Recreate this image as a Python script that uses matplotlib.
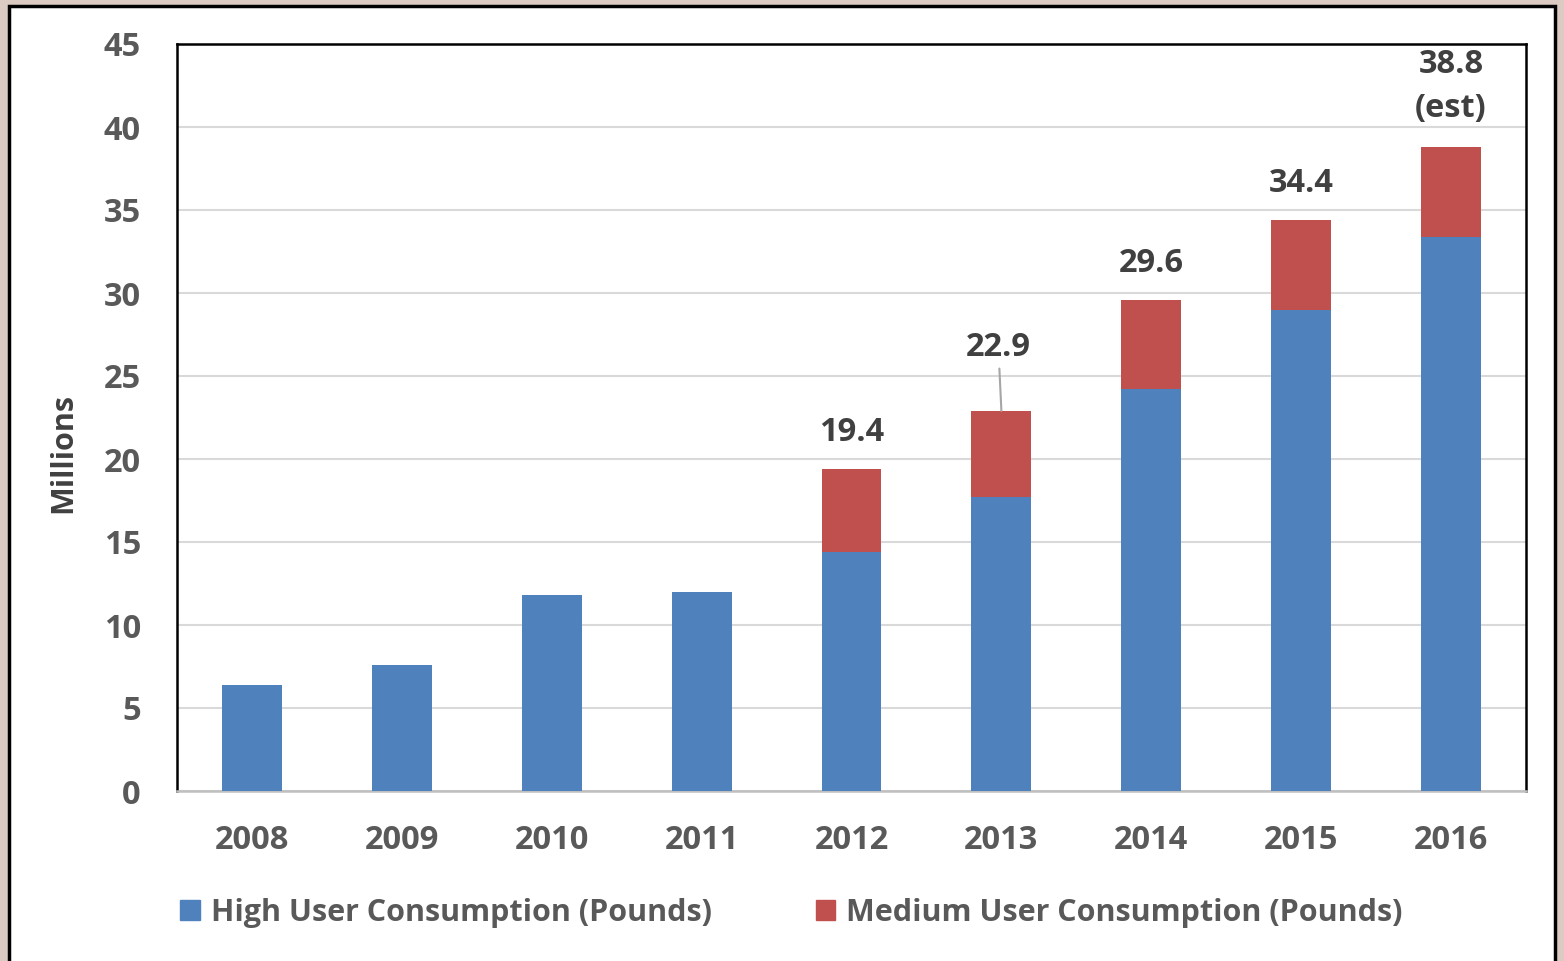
import matplotlib
matplotlib.use('Agg')
import matplotlib.pyplot as plt
from matplotlib.patches import Rectangle, Patch

years = ['2008', '2009', '2010', '2011', '2012', '2013', '2014', '2015', '2016']
high_user = [6.4, 7.6, 11.8, 12.0, 14.4, 17.7, 24.2, 29.0, 33.4]
medium_user = [0, 0, 0, 0, 5.0, 5.2, 5.4, 5.4, 5.4]
totals = [None, None, None, None, 19.4, 22.9, 29.6, 34.4, 38.8]
total_labels = ['', '', '', '', '19.4', '22.9', '29.6', '34.4', '38.8\n(est)']

blue = '#4f81bd'
red = '#c0504d'
tick_col = '#595959'
lab_col = '#404040'
fs = 23.5

plt.rcParams['font.family'] = ['Open Sans', 'DejaVu Sans']

fig = plt.figure(figsize=(15.64, 9.61), dpi=100)
fig.patch.set_facecolor('#dccbc2')

# white framed panel
fig.patches.append(Rectangle((9 / 1564, -0.05), 1546 / 1564, 1 - 6 / 961 + 0.05,
                             transform=fig.transFigure, facecolor='white',
                             edgecolor='black', linewidth=2.5, zorder=-5))

ax = fig.add_axes([177 / 1564, 1 - 791 / 961, 1349 / 1564, 747 / 961])
ax.set_zorder(2)
x = list(range(len(years)))
ax.bar(x, high_user, width=0.4, color=blue, zorder=3)
ax.bar(x, medium_user, width=0.4, bottom=high_user, color=red, zorder=3)

ax.set_xlim(-0.5, len(years) - 0.5)
ax.set_ylim(0, 45)
ax.set_yticks(range(0, 46, 5))
ax.grid(axis='y', color='#d9d9d9', linewidth=1.5, zorder=0)
ax.set_xticks(x)
ax.set_xticklabels(years)
ax.tick_params(axis='both', length=0, labelsize=fs, labelcolor=tick_col)
ax.tick_params(axis='x', pad=24)
ax.tick_params(axis='y', pad=26)
for lbl in ax.get_xticklabels() + ax.get_yticklabels():
    lbl.set_fontweight('bold')

for s in ['top', 'left', 'right']:
    ax.spines[s].set_color('black')
    ax.spines[s].set_linewidth(1.8)
ax.spines['bottom'].set_color('#bfbfbf')
ax.spines['bottom'].set_linewidth(1.8)

ax.set_ylabel('Millions', fontsize=22, fontweight='bold', color=lab_col)
ax.yaxis.set_label_coords(-0.073, 0.452)

# total labels
for i, t in enumerate(totals):
    if t is None:
        continue
    if i == 5:
        ax.annotate(total_labels[i], xy=(i, t), xytext=(i - 0.02, t + 2.8),
                    ha='center', va='bottom', fontsize=fs, fontweight='bold', color=lab_col,
                    arrowprops=dict(arrowstyle='-', color='#a6a6a6', lw=1.5,
                                    shrinkA=1, shrinkB=0))
    elif i == 8:
        ax.text(i, t + 1.3, total_labels[i], ha='center', va='bottom',
                fontsize=fs, fontweight='bold', color=lab_col, linespacing=1.45)
    else:
        ax.text(i, t + 1.2, total_labels[i], ha='center', va='bottom',
                fontsize=fs, fontweight='bold', color=lab_col)

handles = [Patch(color=blue, label='High User Consumption (Pounds)'),
           Patch(color=red, label='Medium User Consumption (Pounds)')]
leg = fig.legend(handles=handles, loc='center', bbox_to_anchor=(0.506, 1 - 913 / 961),
                 ncol=2, frameon=False, fontsize=22, handlelength=0.65, handleheight=0.65,
                 handletextpad=0.35, columnspacing=3.4)
for t in leg.get_texts():
    t.set_color(tick_col)
    t.set_fontweight('bold')

fig.savefig('out.png', dpi=100, facecolor=fig.get_facecolor())
